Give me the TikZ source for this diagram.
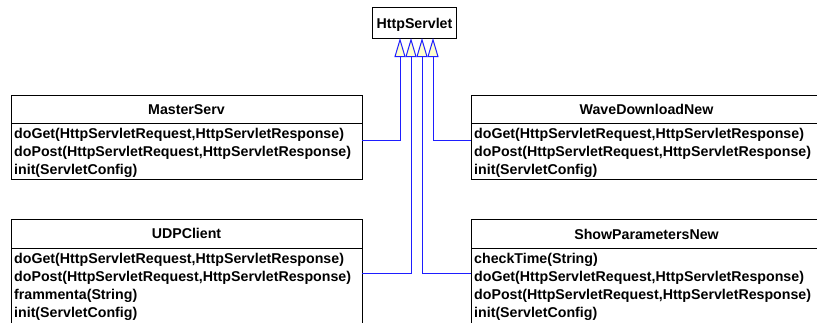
\documentclass[tikz,border=0pt]{standalone}
\usepackage{fontspec}
\setmainfont{Liberation Sans}
\usetikzlibrary{arrows.meta}
\definecolor{linkblue}{RGB}{30,30,255}
\definecolor{tipfill}{RGB}{255,255,204}
\begin{document}
\begin{tikzpicture}[x=1pt,y=-1pt,
  umlfont/.style={font=\fontsize{14.2}{18}\selectfont\bfseries},
  hdr/.style={draw=black, line width=1pt, umlfont, anchor=north west,
    minimum width=351pt, minimum height=28pt, inner sep=0pt, outer sep=0pt,
    text height=10pt, text depth=0pt},
  bodybox/.style={draw=black, line width=1pt, anchor=north west,
    minimum width=351pt, inner sep=0pt, outer sep=0pt},
  op/.style={umlfont, anchor=base west, inner sep=0pt},
  gen/.style={draw=linkblue, line width=1pt, line join=miter,
    -{Triangle[length=19pt, width=11pt, fill=tipfill]}}]

\useasboundingbox (0,0) rectangle (817,322);
\clip (0,0) rectangle (817,322);
\fill[white] (0,0) rectangle (817,322);

% superclass
\node[draw=black, line width=1pt, umlfont, anchor=north west,
  minimum width=84pt, minimum height=31pt, inner sep=0pt,
  text height=10pt, text depth=0pt] (http) at (372,7) {HttpServlet};

% MasterServ
\node[hdr] (masterH) at (11,95) {MasterServ};
\node[bodybox, minimum height=56pt] (masterB) at (masterH.south west) {};
\node[op] (master1) at (14,138) {doGet(HttpServletRequest,HttpServletResponse)};
\node[op] (master2) at (14,156) {doPost(HttpServletRequest,HttpServletResponse)};
\node[op] (master3) at (14,174) {init(ServletConfig)};

% WaveDownloadNew
\node[hdr] (waveH) at (471,95) {WaveDownloadNew};
\node[bodybox, minimum height=56pt] (waveB) at (waveH.south west) {};
\node[op] (wave1) at (474,138) {doGet(HttpServletRequest,HttpServletResponse)};
\node[op] (wave2) at (474,156) {doPost(HttpServletRequest,HttpServletResponse)};
\node[op] (wave3) at (474,174) {init(ServletConfig)};

% UDPClient
\node[hdr, minimum height=29pt] (udpH) at (11,219) {UDPClient};
\node[bodybox, minimum height=80pt] (udpB) at (udpH.south west) {};
\node[op] (udp1) at (14,263) {doGet(HttpServletRequest,HttpServletResponse)};
\node[op] (udp2) at (14,281) {doPost(HttpServletRequest,HttpServletResponse)};
\node[op] (udp3) at (14,299) {frammenta(String)};
\node[op] (udp4) at (14,317) {init(ServletConfig)};

% ShowParametersNew
\node[hdr, minimum height=29pt] (showH) at (471,219.5) {ShowParametersNew};
\node[bodybox, minimum height=80pt] (showB) at (showH.south west) {};
\node[op] (show1) at (474,263) {checkTime(String)};
\node[op] (show2) at (474,281) {doGet(HttpServletRequest,HttpServletResponse)};
\node[op] (show3) at (474,299) {doPost(HttpServletRequest,HttpServletResponse)};
\node[op] (show4) at (474,317) {init(ServletConfig)};

% inheritance targets on the superclass
\coordinate (a1) at (400,38);
\coordinate (a2) at (411,38);
\coordinate (a3) at (422,38);
\coordinate (a4) at (433,38);

% attachment points on the subclasses
\coordinate (pMaster) at (362,140);
\coordinate (pWave) at (471,140);
\coordinate (pUdp) at (362,273);
\coordinate (pShow) at (471,273);

\draw[gen] (pMaster) -| (a1);
\draw[gen] (pUdp) -| (a2);
\draw[gen] (pShow) -| (a3);
\draw[gen] (pWave) -| (a4);
\end{tikzpicture}
\end{document}
